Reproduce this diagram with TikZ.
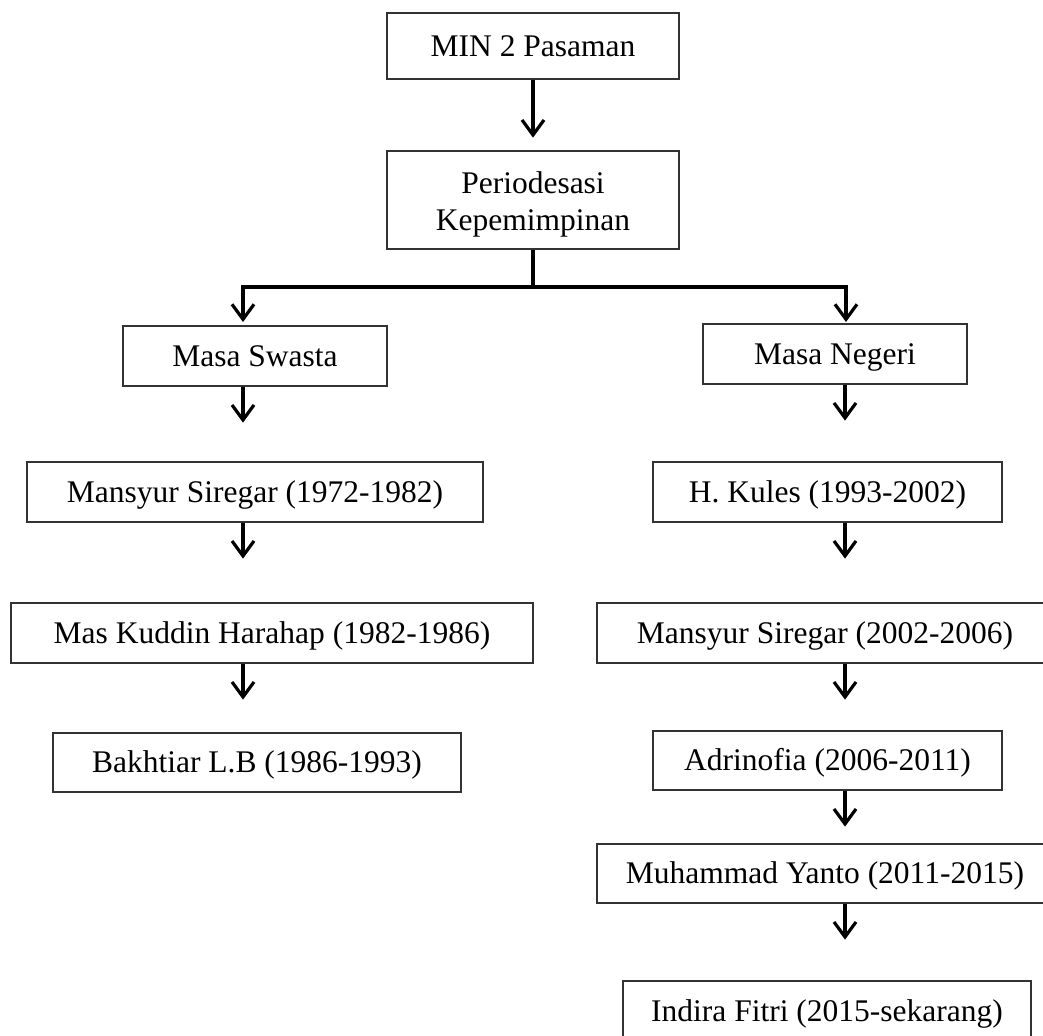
\documentclass[tikz,border=0pt]{standalone}
\usepackage{fontspec}
\setmainfont{Liberation Serif}
\usetikzlibrary{arrows.meta}

\begin{document}
\begin{tikzpicture}[x=1pt, y=-1pt,
  box/.style={draw=black!80, line width=1.3pt, align=center, inner sep=0pt,
    font=\fontsize{31.5}{37}\selectfont, text height=28.4pt, text depth=7.6pt,
    minimum height=60pt},
  arr/.style={-{Straight Barb[length=15pt, width=22pt]}, line width=3.2pt},
  bar/.style={line width=3.2pt}
]
\useasboundingbox (0,0) rectangle (1043,1035);
\coordinate (colL) at (243,0);
\coordinate (colR) at (845,0);

% top of the chart
\node[box, minimum width=292pt, minimum height=66pt] (min) at (533,46) {MIN 2 Pasaman};
\node[box, minimum width=292pt, minimum height=98pt, text height=67.6pt] (periode) at (533,200)
  {Periodesasi\\Kepemimpinan};
\draw[arr] (min.south) -- ++(0,58);

% the two periods
\node[box, minimum width=264pt] (swasta) at (255,356) {Masa Swasta};
\node[box, minimum width=264pt] (negeri) at (835,354) {Masa Negeri};
\coordinate (forkL) at (243,287);
\coordinate (forkR) at (846,287);
\draw[bar] (periode.south) -- (periode.south |- forkL);
\draw[bar, line cap=rect] (forkL) -- (forkR);
\draw[arr] (forkL) -- ++(0,35);
\draw[arr] (forkR) -- ++(0,35);

% Masa Swasta
\node[box, minimum width=456pt] (swA) at (255,492) {Mansyur Siregar (1972-1982)};
\node[box, minimum width=522pt] (swB) at (272,633) {Mas Kuddin Harahap (1982-1986)};
\node[box, minimum width=408pt, minimum height=59pt] (swC) at (257,762.5) {Bakhtiar L.B (1986-1993)};

% Masa Negeri
\node[box, minimum width=349pt] (ngA) at (827.5,492) {H. Kules (1993-2002)};
\node[box, minimum width=456pt] (ngB) at (825,633) {Mansyur Siregar (2002-2006)};
\node[box, minimum width=349pt, minimum height=59pt] (ngC) at (827.5,760.5) {Adrinofia (2006-2011)};
\node[box, minimum width=456pt, minimum height=59pt] (ngD) at (825,873.5) {Muhammad Yanto (2011-2015)};
\node[box, minimum width=408pt] (ngE) at (827,1011) {Indira Fitri (2015-sekarang)};

\foreach \n in {swasta,swA,swB}
  \draw[arr] (\n.south -| colL) -- ++(0,36);
\foreach \n in {negeri,ngA,ngB,ngC,ngD}
  \draw[arr] (\n.south -| colR) -- ++(0,36);
\end{tikzpicture}
\end{document}
